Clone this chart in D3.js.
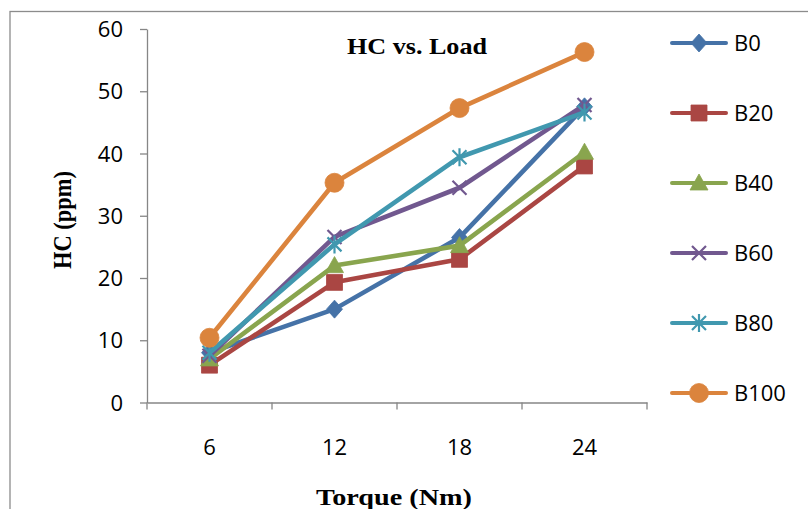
<!DOCTYPE html>
<html>
<head>
<meta charset="utf-8">
<script src="https://cdn.jsdelivr.net/npm/d3@7"></script>
<style>
  body { margin: 0; background: #fff; }
  svg { display: block; }
  .axis path, .axis line { stroke: #868686; stroke-width: 1.3; }
  .axis text { font-family: "Open Sans", sans-serif; font-size: 22px; fill: #000; }
</style>
</head>
<body>
<div id="chart"></div>
<script>
// data
const torque = ["6", "12", "18", "24"];
const seriesNames = ["B0", "B20", "B40", "B60", "B80", "B100"];
const B0 = [8, 15, 26.5, 47.5];
const B20 = [6, 19.3, 23, 38];
const B40 = [7, 22, 25.2, 40.2];
const B60 = [7.5, 26.6, 34.5, 47.8];
const B80 = [8, 25.4, 39.4, 46.6];
const B100 = [10.4, 35.3, 47.3, 56.3];
const yTicks = [0, 10, 20, 30, 40, 50, 60];

const seriesValues = [B0, B20, B40, B60, B80, B100];
const colors = ["#4572A7", "#AA4643", "#89A54E", "#71588F", "#4198AF", "#DB843D"];
const markers = ["diamond", "square", "triangle", "cross", "star", "circle"];

const W = 808, H = 509;
const svg = d3.select("#chart").append("svg")
    .attr("width", W)
    .attr("height", H);

// outer chart border (runs past right/bottom edges like the picture)
svg.append("rect")
    .attr("x", 10).attr("y", 11.5)
    .attr("width", 820).attr("height", 520)
    .attr("fill", "none")
    .attr("stroke", "#8c8c8c")
    .attr("stroke-width", 1.3);

const x = d3.scaleBand()
    .domain(torque)
    .range([147, 647]);
const y = d3.scaleLinear()
    .domain([0, 60])
    .range([402.5, 29]);

// y axis
const yAxis = svg.append("g")
    .attr("class", "axis")
    .attr("transform", "translate(147,0)")
    .call(d3.axisLeft(y).tickValues(yTicks).tickSize(7).tickSizeOuter(0).tickPadding(17));
yAxis.selectAll("text").attr("dy", "0.35em");

// x axis, labels at band centres, tick marks at band edges
const xAxis = svg.append("g")
    .attr("class", "axis")
    .attr("transform", "translate(0,402.5)")
    .call(d3.axisBottom(x).tickSize(0).tickSizeOuter(0));
xAxis.selectAll("text").attr("y", 45).attr("dy", "0.35em");
const edges = torque.map(d => x(d)).concat([x.range()[1]]);
xAxis.selectAll(".edge")
    .data(edges)
    .join("line")
    .attr("class", "edge")
    .attr("x1", d => d).attr("x2", d => d)
    .attr("y1", 0).attr("y2", 7);

// marker shapes
function markerPath(type) {
    switch (type) {
        case "diamond": return "M0,-9L8,0L0,9L-8,0Z";
        case "square": return "M-8,-8H8V8H-8Z";
        case "triangle": return "M0,-9L9,7H-9Z";
        case "cross": return "M-7,-7L7,7M7,-7L-7,7";
        case "star": return "M-7,-7L7,7M7,-7L-7,7M0,-9V9";
        default: return d3.symbol(d3.symbolCircle, Math.PI * 9.5 * 9.5)();
    }
}
function drawMarker(g, type, color) {
    const stroked = type === "cross" || type === "star";
    g.append("path")
        .attr("d", markerPath(type))
        .attr("fill", stroked ? "none" : color)
        .attr("stroke", color)
        .attr("stroke-width", stroked ? 2.2 : 0.8);
}

const line = d3.line()
    .x((d, i) => x(torque[i]) + x.bandwidth() / 2)
    .y(d => y(d));

seriesNames.forEach((name, s) => {
    const vals = seriesValues[s];
    const g = svg.append("g");
    g.append("path")
        .datum(vals)
        .attr("d", line)
        .attr("fill", "none")
        .attr("stroke", colors[s])
        .attr("stroke-width", 4.6)
        .attr("stroke-linejoin", "round");
    vals.forEach((v, i) => {
        const mg = g.append("g")
            .attr("transform", `translate(${x(torque[i]) + x.bandwidth() / 2},${y(v)})`);
        drawMarker(mg, markers[s], colors[s]);
    });
});

// title
svg.append("text")
    .attr("x", 417).attr("y", 54)
    .attr("text-anchor", "middle")
    .attr("font-family", "'Liberation Serif', 'Times New Roman', serif")
    .attr("font-weight", "bold")
    .attr("font-size", 24)
    .attr("textLength", 140)
    .attr("lengthAdjust", "spacingAndGlyphs")
    .text("HC vs. Load");

// axis titles
svg.append("text")
    .attr("transform", "translate(71,220) rotate(-90)")
    .attr("text-anchor", "middle")
    .attr("font-family", "'Liberation Serif', 'Times New Roman', serif")
    .attr("font-weight", "bold")
    .attr("font-size", 25)
    .attr("textLength", 98)
    .attr("lengthAdjust", "spacingAndGlyphs")
    .text("HC (ppm)");

svg.append("text")
    .attr("x", 394).attr("y", 505)
    .attr("text-anchor", "middle")
    .attr("font-family", "'Liberation Serif', 'Times New Roman', serif")
    .attr("font-weight", "bold")
    .attr("font-size", 24)
    .attr("textLength", 156)
    .attr("lengthAdjust", "spacingAndGlyphs")
    .text("Torque (Nm)");

// legend
const legend = svg.append("g");
const legendY = d3.scalePoint().domain(seriesNames).range([43, 393]);
seriesNames.forEach((name, s) => {
    const lg = legend.append("g")
        .attr("transform", `translate(672,${legendY(name)})`);
    lg.append("line")
        .attr("x1", 0).attr("x2", 54)
        .attr("stroke", colors[s])
        .attr("stroke-width", 4)
        .attr("stroke-linecap", "round");
    const mg = lg.append("g").attr("transform", "translate(27,0)");
    drawMarker(mg, markers[s], colors[s]);
    lg.append("text")
        .attr("x", 62).attr("dy", "0.35em")
        .attr("font-family", "'Open Sans', sans-serif")
        .attr("font-size", 22)
        .text(name);
});
</script>
</body>
</html>
